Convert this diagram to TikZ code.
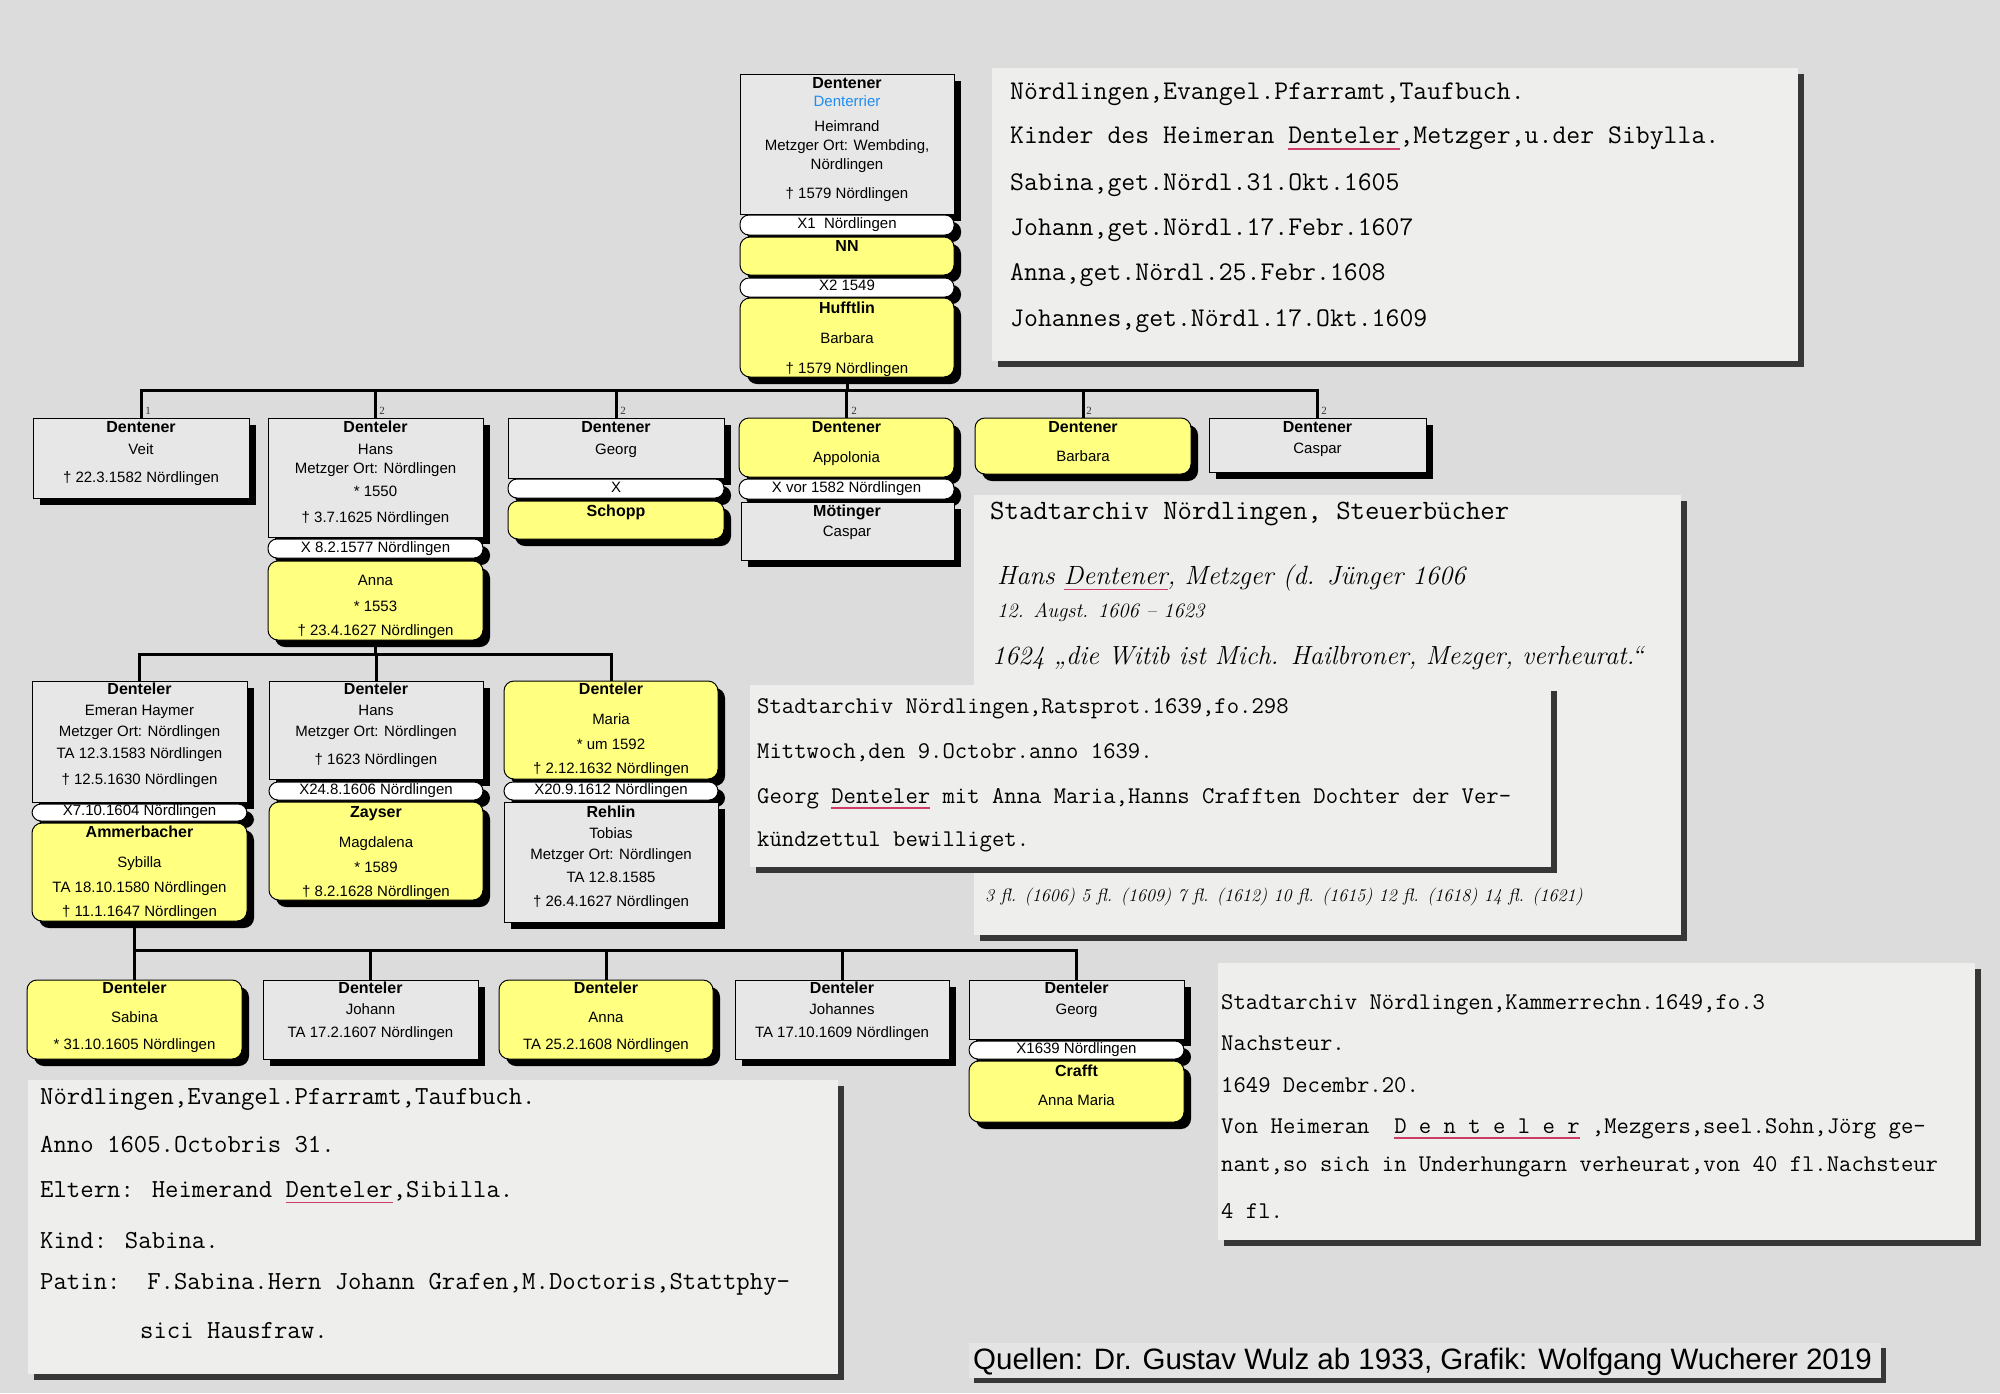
\documentclass[tikz,border=0pt]{standalone}
\usepackage{fontspec}
\newfontfamily\arialf{Liberation Sans}
\newfontfamily\seriff{Liberation Serif}
\usetikzlibrary{shadows,calc}
\definecolor{bgc}{RGB}{220,220,220}
\definecolor{greyc}{RGB}{231,231,231}
\definecolor{yelc}{RGB}{255,255,128}
\definecolor{cardc}{RGB}{238,238,236}
\definecolor{cshad}{RGB}{55,55,55}
\definecolor{ulred}{RGB}{205,60,100}
\definecolor{bluec}{RGB}{30,140,240}
\definecolor{credc}{RGB}{228,228,228}
\pgfdeclarelayer{bgl}
\pgfdeclarelayer{linel}
\pgfsetlayers{bgl,linel,main}
\newcommand\redul[1]{\setbox0\hbox{#1}\rlap{\color{ulred}\rule[-0.22em]{\wd0}{0.06em}}\box0\relax}
\newcommand\nm[1]{{\fontsize{16}{17}\selectfont\bfseries #1}}
\tikzset{
 pbox/.style={draw=black, line width=1pt, inner sep=0pt, outer sep=0pt,
   drop shadow={shadow xshift=7pt, shadow yshift=-7pt, opacity=1, fill=black}},
 gbox/.style={pbox, fill=greyc},
 ybox/.style={pbox, fill=yelc, rounded corners=10pt},
 mbox/.style={pbox, fill=white, rounded corners=9pt},
 txt/.style={font=\arialf\fontsize{15}{17}\selectfont, inner sep=0pt, text height=10pt, text depth=3pt},
 conn/.style={line width=3pt, black, line cap=rect},
 card/.style={fill=cardc, draw=none, inner sep=0pt, outer sep=0pt,
   drop shadow={shadow xshift=6pt, shadow yshift=-6pt, opacity=1, fill=cshad}},
 credbox/.style={fill=credc, draw=none, inner sep=0pt,
   drop shadow={shadow xshift=5pt, shadow yshift=-5pt, opacity=1, fill=cshad}},
 typed/.style={font=\ttfamily\fontsize{#1}{#1}\selectfont, anchor=west, inner sep=0pt, text height=1.6ex, text depth=.4ex, yshift=-6pt},
 hand/.style={font=\rmfamily\itshape\fontsize{#1}{#1}\selectfont, anchor=west, inner sep=0pt},
 numl/.style={font=\seriff\fontsize{11}{11}\selectfont, inner sep=0pt, text=black!80},
}
\newcommand\pbox[6]{\node[#1, minimum width={#5pt-#3pt}, minimum height={#6pt-#4pt}] (#2) at ({(#3+#5)/2},{(#4+#6)/2}) {};}
\newcommand\tlines[3]{\foreach [count=\i] \yy/\lt in {#3} {\node[txt] (#1-\i) at (#2,\yy) {\lt};}}
\newcommand\cardbox[5]{\node[card, minimum width={#4pt-#2pt}, minimum height={#5pt-#3pt}] (#1) at ({(#2+#4)/2},{(#3+#5)/2}) {};}
\newcommand\clines[4]{\foreach [count=\i] \yy/\lt in {#4} {\node[typed=#3] (#1-\i) at (#2,\yy) {\lt};}}
\begin{document}
\begin{tikzpicture}[x=1pt,y=-1pt]
\begin{pgfonlayer}{bgl}
\fill[bgc] (0,0) rectangle (2000,1393);
\end{pgfonlayer}
\useasboundingbox (0,0) rectangle (2000,1393);

% ---- top column
\pbox{gbox}{heim}{740}{74}{954}{214}
\tlines{heim}{847}{85/{\nm{Dentener}}, 103/{\textcolor{bluec}{Denterrier}}, 128/Heimrand, 147/{Metzger Ort: Wembding,}, 166/Nördlingen, 195/{† 1579 Nördlingen}}
\pbox{mbox}{m1}{740}{215}{954}{235}
\tlines{m1}{847}{225/{X1\ \ Nördlingen}}
\pbox{ybox}{nn}{740}{237}{954}{275}
\tlines{nn}{847}{248/{\nm{NN}}}
\pbox{mbox}{m2}{740}{278}{954}{297}
\tlines{m2}{847}{287/{X2 1549}}
\pbox{ybox}{huff}{740}{298}{954}{377}
\tlines{huff}{847}{310/{\nm{Hufftlin}}, 340/Barbara, 370/{† 1579 Nördlingen}}

% ---- row 1
\pbox{gbox}{veit}{33}{418}{249}{498}
\tlines{veit}{141}{429/{\nm{Dentener}}, 451/Veit, 479/{† 22.3.1582 Nördlingen}}
\pbox{gbox}{hans}{268}{418}{483}{537}
\tlines{hans}{375.5}{429/{\nm{Denteler}}, 451/Hans, 470/{Metzger Ort: Nördlingen}, 493/{* 1550}, 519/{† 3.7.1625 Nördlingen}}
\pbox{mbox}{m3}{268}{539}{483}{558}
\tlines{m3}{375.5}{549/{X 8.2.1577 Nördlingen}}
\pbox{ybox}{anna}{268}{561}{483}{640}
\tlines{anna}{375.5}{582/Anna, 608/{* 1553}, 632/{† 23.4.1627 Nördlingen}}
\pbox{gbox}{georg}{508}{418}{724}{478}
\tlines{georg}{616}{429/{\nm{Dentener}}, 451/Georg}
\pbox{mbox}{m4}{508}{479}{724}{498}
\tlines{m4}{616}{489/X}
\pbox{ybox}{schopp}{508}{501}{724}{539}
\tlines{schopp}{616}{513/{\nm{Schopp}}}
\pbox{ybox}{appo}{739}{418}{954}{477}
\tlines{appo}{846.5}{429/{\nm{Dentener}}, 459/Appolonia}
\pbox{mbox}{m5}{739}{479}{954}{499}
\tlines{m5}{846.5}{489/{X vor 1582 Nördlingen}}
\pbox{gbox}{moet}{741}{502}{954}{560}
\tlines{moet}{847}{513/{\nm{Mötinger}}, 533/Caspar}
\pbox{ybox}{barb}{975}{418}{1191}{474}
\tlines{barb}{1083}{429/{\nm{Dentener}}, 458/Barbara}
\pbox{gbox}{casp}{1209}{418}{1426}{472}
\tlines{casp}{1317.5}{429/{\nm{Dentener}}, 450/Caspar}

% ---- row 2
\pbox{gbox}{emer}{32}{681}{247}{802}
\tlines{emer}{139.5}{691/{\nm{Denteler}}, 712/{Emeran Haymer}, 733/{Metzger Ort: Nördlingen}, 755/{TA 12.3.1583 Nördlingen}, 781/{† 12.5.1630 Nördlingen}}
\pbox{mbox}{m6}{32}{804}{247}{821}
\tlines{m6}{139.5}{812/{X7.10.1604 Nördlingen}}
\pbox{ybox}{ammer}{32}{823}{247}{921}
\tlines{ammer}{139.5}{834/{\nm{Ammerbacher}}, 864/Sybilla, 889/{TA 18.10.1580 Nördlingen}, 913/{† 11.1.1647 Nördlingen}}
\pbox{gbox}{hans2}{269}{681}{483}{779}
\tlines{hans2}{376}{691/{\nm{Denteler}}, 712/Hans, 733/{Metzger Ort: Nördlingen}, 761/{† 1623 Nördlingen}}
\pbox{mbox}{m7}{269}{782}{483}{800}
\tlines{m7}{376}{791/{X24.8.1606 Nördlingen}}
\pbox{ybox}{zays}{269}{802}{483}{900}
\tlines{zays}{376}{814/{\nm{Zayser}}, 844/Magdalena, 869/{* 1589}, 893/{† 8.2.1628 Nördlingen}}
\pbox{ybox}{maria}{504}{681}{718}{779}
\tlines{maria}{611}{691/{\nm{Denteler}}, 721/Maria, 746/{* um 1592}, 770/{† 2.12.1632 Nördlingen}}
\pbox{mbox}{m8}{504}{782}{718}{800}
\tlines{m8}{611}{791/{X20.9.1612 Nördlingen}}
\pbox{gbox}{rehl}{504}{802}{718}{922}
\tlines{rehl}{611}{814/{\nm{Rehlin}}, 835/Tobias, 856/{Metzger Ort: Nördlingen}, 879/{TA 12.8.1585}, 903/{† 26.4.1627 Nördlingen}}

% ---- row 3
\pbox{ybox}{sab}{27}{980}{242}{1059}
\tlines{sab}{134.5}{990/{\nm{Denteler}}, 1019/Sabina, 1046/{* 31.10.1605 Nördlingen}}
\pbox{gbox}{joh}{263}{980}{478}{1059}
\tlines{joh}{370.5}{990/{\nm{Denteler}}, 1011/Johann, 1034/{TA 17.2.1607 Nördlingen}}
\pbox{ybox}{anna2}{499}{980}{713}{1059}
\tlines{anna2}{606}{990/{\nm{Denteler}}, 1019/Anna, 1046/{TA 25.2.1608 Nördlingen}}
\pbox{gbox}{johs}{735}{980}{949}{1059}
\tlines{johs}{842}{990/{\nm{Denteler}}, 1011/Johannes, 1034/{TA 17.10.1609 Nördlingen}}
\pbox{gbox}{georg2}{969}{980}{1184}{1039}
\tlines{georg2}{1076.5}{990/{\nm{Denteler}}, 1011/Georg}
\pbox{mbox}{m9}{969}{1041}{1184}{1059}
\tlines{m9}{1076.5}{1050/{X1639 Nördlingen}}
\pbox{ybox}{crafft}{969}{1061}{1184}{1122}
\tlines{crafft}{1076.5}{1073/{\nm{Crafft}}, 1102/{Anna Maria}}

% ---- numbers
\foreach \n/\x/\t in {n1/148/1, n2/382/2, n3/623/2, n4/854/2, n5/1089/2, n6/1324/2}
  \node[numl] (\n) at (\x,411) {\t};

% ---- connectors
\coordinate (bar1) at (0,390);
\coordinate (bar2) at (0,654);
\coordinate (bar3) at (0,950);
\begin{pgfonlayer}{linel}
\draw[conn] (huff.south) -- (huff.south |- bar1);
\draw[conn] (veit.north |- bar1) -- (casp.north |- bar1);
\foreach \n in {veit,hans,georg,appo,barb,casp} \draw[conn] (\n.north |- bar1) -- (\n.north);
\draw[conn] (anna.south) -- (anna.south |- bar2);
\draw[conn] (emer.north |- bar2) -- (maria.north |- bar2);
\foreach \n in {emer,hans2,maria} \draw[conn] (\n.north |- bar2) -- (\n.north);
\draw[conn] (ammer.south -| sab.north) -- (sab.north |- bar3);
\draw[conn] (sab.north |- bar3) -- (georg2.north |- bar3);
\foreach \n in {sab,joh,anna2,johs,georg2} \draw[conn] (\n.north |- bar3) -- (\n.north);
\end{pgfonlayer}

% ---- cards
\cardbox{card1}{992}{68}{1798}{361}
\clines{card1}{1010}{27}{91/{Nördlingen,Evangel.Pfarramt,Taufbuch.}, 135/{Kinder des Heimeran \redul{Denteler},Metzger,u.der Sibylla.}, 182/{Sabina,get.Nördl.31.Okt.1605}, 227/{Johann,get.Nördl.17.Febr.1607}, 272/{Anna,get.Nördl.25.Febr.1608}, 318/{Johannes,get.Nördl.17.Okt.1609}}

\cardbox{card2}{974}{495}{1681}{935}
\clines{card2}{990}{28}{511/{Stadtarchiv Nördlingen, Steuerbücher}}
\node[hand=26.4] (card2-h1) at (997,578) {Hans \redul{Dentener}, Metzger (d. Jünger 1606};
\node[hand=20.5] (card2-h2) at (997,612) {12. Augst. 1606 -- 1623};
\node[hand=26.2] (card2-h3) at (992,658) {1624 „die Witib ist Mich. Hailbroner, Mezger, verheurat.“};
\node[hand=18] (card2-h4) at (985,897) {3 fl. (1606) 5 fl. (1609) 7 fl. (1612) 10 fl. (1615) 12 fl. (1618) 14 fl. (1621)};

\cardbox{card3}{750}{685}{1551}{867}
\clines{card3}{757}{24}{705/{Stadtarchiv Nördlingen,Ratsprot.1639,fo.298}, 750/{Mittwoch,den 9.Octobr.anno 1639.}, 795/{Georg \redul{Denteler} mit Anna Maria,Hanns Crafften Dochter der Ver-}, 838/{kündzettul bewilliget.}}

\cardbox{card4}{1218}{963}{1975}{1240}
\clines{card4}{1221}{24}{1001/{Stadtarchiv Nördlingen,Kammerrechn.1649,fo.3}, 1042/{Nachsteur.}, 1084/{1649 Decembr.20.}, 1125/{Von Heimeran\ \ \redul{D e n t e l e r} ,Mezgers,seel.Sohn,Jörg ge-}, 1163/{nant,so sich in Underhungarn verheurat,von 40 fl.Nachsteur}, 1210/{4 fl.}}

\cardbox{card5}{28}{1080}{838}{1374}
\clines{card5}{40}{26}{1096/{Nördlingen,Evangel.Pfarramt,Taufbuch.}, 1144/{Anno 1605.Octobris 31.}, 1189/{Eltern: Heimerand \redul{Denteler},Sibilla.}, 1240/{Kind: Sabina.}, 1281/{Patin:\ \ F.Sabina.Hern Johann Grafen,M.Doctoris,Stattphy-}}
\node[typed=26] (card5-6) at (140,1330) {sici Hausfraw.};

% ---- credit
\node[credbox, minimum width=912pt, minimum height=35pt] (cred) at (1425,1360.5) {};
\node[font=\arialf\fontsize{29.5}{30}\selectfont, anchor=west, inner sep=0pt] (credT) at (973,1362) {Quellen: Dr. Gustav Wulz ab 1933, Grafik: Wolfgang Wucherer 2019};
\end{tikzpicture}
\end{document}
